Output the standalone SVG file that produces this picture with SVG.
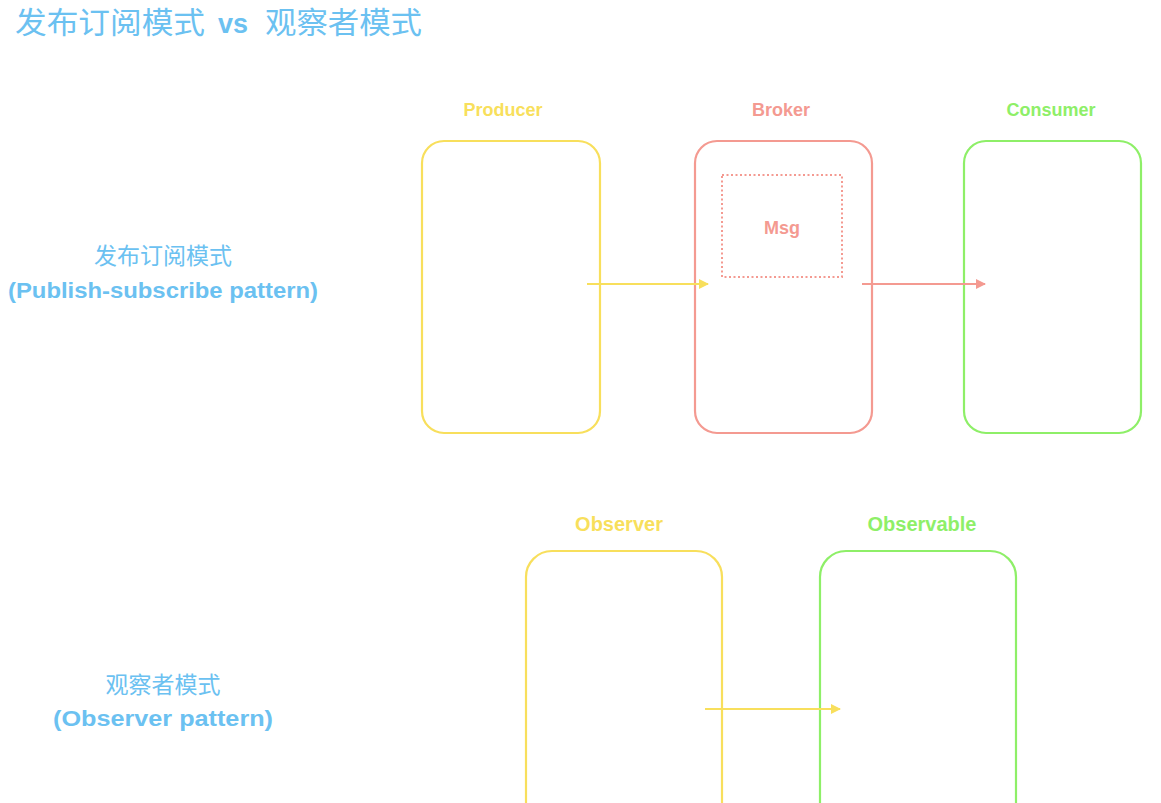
<svg xmlns="http://www.w3.org/2000/svg" width="1161" height="803" viewBox="0 0 1161 803">
<defs>
<style>
.box{fill:none;stroke-width:2.2}
.y{stroke:#f8df5c}
.r{stroke:#f49a91}
.g{stroke:#8eef68}
.t{font-family:"Liberation Sans","Noto Sans CJK SC",sans-serif;font-weight:bold;text-anchor:middle}
.cn{font-family:"Noto Sans CJK SC",sans-serif;font-weight:normal;text-anchor:middle;fill:#6bc1f1}
.en{font-family:"Liberation Sans",sans-serif;font-weight:bold;text-anchor:middle;fill:#6bc1f1}
.ty{fill:#f8df5c}.tr{fill:#f49a91}.tg{fill:#8eef68}
.conn{fill:none;stroke-width:2}
</style>
<marker id="ay" viewBox="0 0 10 10" refX="9" refY="5" markerWidth="5" markerHeight="5" orient="auto"><path d="M0,0L10,5L0,10z" fill="#f8df5c"/></marker>
<marker id="ar" viewBox="0 0 10 10" refX="9" refY="5" markerWidth="5" markerHeight="5" orient="auto"><path d="M0,0L10,5L0,10z" fill="#f49a91"/></marker>
</defs>
<rect width="1161" height="803" fill="#ffffff"/>
<g id="title" fill="#6bc1f1">
<text x="15" y="33" font-family="Noto Sans CJK SC,sans-serif" font-size="30" textLength="190" lengthAdjust="spacingAndGlyphs">发布订阅模式</text>
<text x="218" y="33" font-family="Liberation Sans,sans-serif" font-weight="bold" font-size="28" textLength="30" lengthAdjust="spacingAndGlyphs">vs</text>
<text x="265" y="33" font-family="Noto Sans CJK SC,sans-serif" font-size="30" textLength="157" lengthAdjust="spacingAndGlyphs">观察者模式</text>
</g>
<g id="label-pubsub">
<text class="cn" x="163" y="264" font-size="23">发布订阅模式</text>
<text class="en" x="163" y="298" font-size="22" textLength="310" lengthAdjust="spacingAndGlyphs">(Publish-subscribe pattern)</text>
</g>
<g id="label-observer">
<text class="cn" x="163" y="693" font-size="23">观察者模式</text>
<text class="en" x="163" y="726" font-size="22" textLength="220" lengthAdjust="spacingAndGlyphs">(Observer pattern)</text>
</g>
<g id="producer">
<text class="t ty" x="503" y="116" font-size="18">Producer</text>
<rect class="box y" x="422" y="141" width="178" height="292" rx="22"/>
</g>
<g id="broker">
<text class="t tr" x="781" y="116" font-size="18">Broker</text>
<rect class="box r" x="695" y="141" width="177" height="292" rx="22"/>
<rect x="722" y="175" width="120" height="102" fill="none" stroke="#f49a91" stroke-width="2" stroke-dasharray="2,2.5"/>
<text class="t tr" x="782" y="234" font-size="18">Msg</text>
</g>
<g id="consumer">
<text class="t tg" x="1051" y="116" font-size="18">Consumer</text>
<rect class="box g" x="964" y="141" width="177" height="292" rx="22"/>
</g>
<g id="observer">
<text class="t ty" x="619" y="531" font-size="20">Observer</text>
<rect class="box y" x="526" y="551" width="196" height="290" rx="26"/>
</g>
<g id="observable">
<text class="t tg" x="922" y="531" font-size="20">Observable</text>
<rect class="box g" x="820" y="551" width="196" height="290" rx="26"/>
</g>
<g id="connectors">
<line class="conn" x1="587" y1="284" x2="708" y2="284" stroke="#f8df5c" marker-end="url(#ay)"/>
<line class="conn" x1="862" y1="284" x2="985" y2="284" stroke="#f49a91" marker-end="url(#ar)"/>
<line class="conn" x1="705" y1="709" x2="840" y2="709" stroke="#f8df5c" marker-end="url(#ay)"/>
</g>
</svg>
